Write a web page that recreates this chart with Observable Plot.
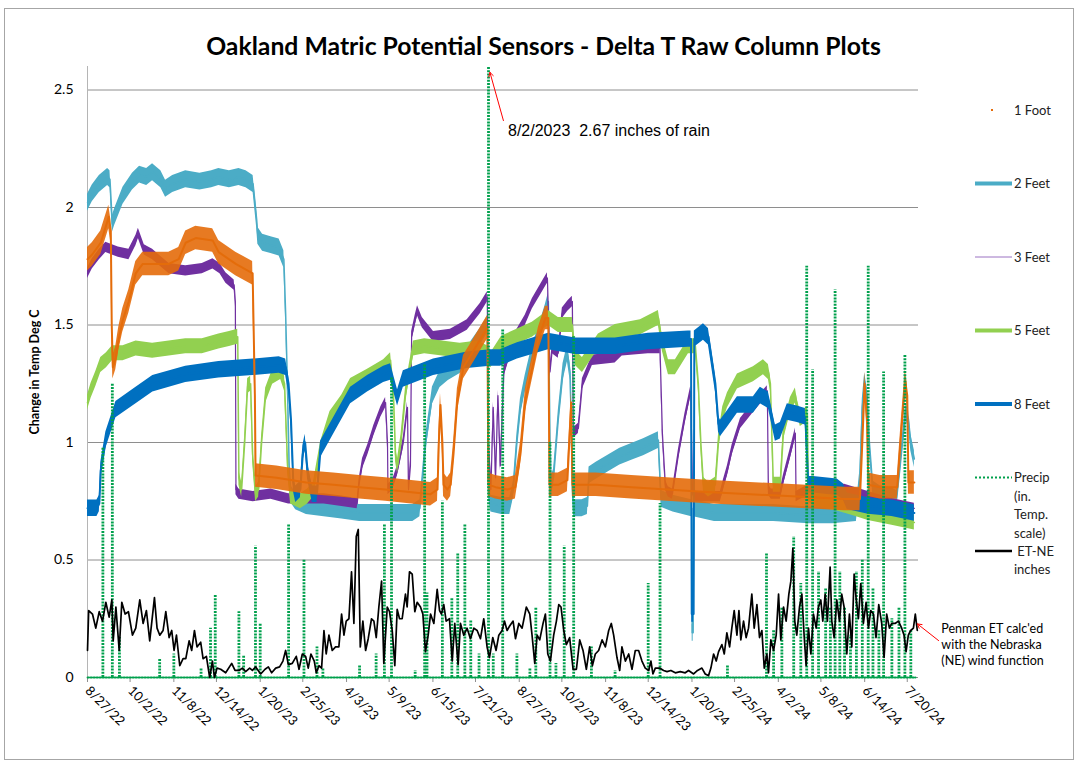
<!DOCTYPE html>
<html><head><meta charset="utf-8">
<script src="https://cdn.jsdelivr.net/npm/d3@7"></script>
<script src="https://cdn.jsdelivr.net/npm/@observablehq/plot@0.6"></script>
<style>
body{margin:0;background:#fff;}
#wrap{position:relative;width:1085px;height:769px;overflow:hidden;background:#fff;font-family:Lato,"Open Sans",sans-serif;}
#border{position:absolute;left:4px;top:8px;width:1070px;height:752px;border:1px solid #a6a6a6;box-sizing:border-box;}
#title{position:absolute;left:0;width:1087px;text-align:center;font-weight:bold;color:#000;white-space:nowrap;font-family:Lato,sans-serif;}
#chart{position:absolute;left:0;top:0;}
#overlay{position:absolute;left:0;top:0;pointer-events:none;}
</style></head>
<body>
<div id="wrap"><div id="border"></div><div id="chart"></div><svg id="overlay" width="1085" height="769"></svg><div id="title"></div></div>
<script>
// ---------- DATA (day = days since 8/27/2022) ----------
const titleText = "Oakland Matric Potential Sensors - Delta T Raw Column Plots";
const yLabel = "Change in Temp Deg C";
const tickLabels = ["8/27/22","10/2/22","11/8/22","12/14/22","1/20/23","2/25/23","4/3/23","5/9/23","6/15/23","7/21/23","8/27/23","10/2/23","11/8/23","12/14/23","1/20/24","2/25/24","4/2/24","5/8/24","6/14/24","7/20/24"];
const yTicks = [0, 0.5, 1, 1.5, 2, 2.5];

const foot1 = [[0,1.78],[4,1.8],[11.2,1.85],[18,1.96],[19.7,1.9],[20.5,1.5],[21.4,1.32],[23.9,1.36],[26.4,1.44],[29.8,1.52],[34.9,1.6],[40.8,1.72],[46.7,1.76],[55.2,1.76],[68.7,1.76],[77.1,1.78],[83,1.85],[91.5,1.87],[105.8,1.86],[110.9,1.81],[125.3,1.76],[139.6,1.72],[140.4,1.5],[141.5,1.2],[142.1,0.86],[160,0.85],[185,0.83],[208,0.82],[230,0.81],[252,0.8],[270,0.79],[290,0.78],[295.9,0.8],[297,1.0],[298.4,1.16],[300,1.0],[301,0.82],[304.3,0.8],[307,0.82],[308.5,0.9],[309.4,0.95],[312.7,1.18],[317.8,1.32],[326.3,1.39],[332.2,1.44],[338.1,1.49],[338.9,0.82],[345,0.81],[355,0.8],[361.7,0.81],[366,0.95],[370.2,1.18],[376.1,1.32],[381.2,1.44],[387.1,1.53],[389.6,1.53],[390.5,0.82],[398,0.82],[405.7,0.84],[409,1.17],[409.9,0.82],[430,0.82],[460,0.81],[490,0.8],[520,0.79],[560,0.78],[600,0.77],[640,0.76],[653,0.76],[655,1.0],[657,1.25],[659,1.1],[660.1,0.82],[670,0.81],[684.6,0.81],[688,1.05],[691.3,1.26],[693,1.2],[694,0.83],[699,0.83]];

const feet2 = [[0,2.02],[4,2.06],[10,2.1],[17,2.13],[19,2.12],[21,1.93],[23,1.96],[30,2.05],[38,2.11],[44,2.14],[50,2.13],[55,2.15],[62,2.12],[66,2.08],[72,2.1],[83,2.12],[95,2.11],[105,2.12],[111,2.13],[120,2.12],[128,2.13],[134,2.12],[140,2.1],[143,1.95],[144,1.88],[148,1.85],[155,1.84],[162,1.83],[166,1.78],[167.5,1.55],[169,1.25],[170.5,0.9],[172,0.78],[176,0.75],[185,0.73],[200,0.72],[215,0.71],[230,0.7],[250,0.7],[265,0.7],[275,0.7],[281,0.72],[286,1.0],[291.6,1.2],[298,1.27],[305,1.3],[315,1.33],[325,1.4],[332,1.45],[338,1.5],[339,0.8],[341,0.74],[350,0.73],[357,0.73],[360,0.8],[363,1.0],[366,1.15],[370,1.25],[376,1.38],[381,1.45],[387,1.55],[389.6,1.6],[391,1.0],[392,0.82],[394,0.85],[398,1.1],[402,1.3],[405.7,1.38],[408,1.3],[410,0.8],[411,0.72],[418,0.72],[422.6,0.73],[424,0.86],[430,0.88],[440,0.91],[450,0.94],[460,0.96],[470,0.98],[482.6,1.01],[484,0.85],[485,0.76],[495,0.74],[510.8,0.72],[511.2,0.19],[512,0.19],[512.4,0.72],[530,0.7],[550,0.7],[580,0.7],[610,0.69],[630,0.69],[650,0.7],[653,0.85],[655,1.15],[657,1.26],[659,1.2],[661,1.0],[664,0.8],[670,0.78],[680,0.77],[684,0.76],[687,0.9],[690,1.05],[692,1.13],[694,1.1],[696,1.0],[699,0.93]];

const feet3 = [[0,1.72],[4,1.76],[10,1.8],[15.5,1.83],[26,1.81],[35,1.8],[41,1.86],[43,1.89],[48,1.82],[55,1.8],[62,1.77],[69,1.74],[83,1.73],[97,1.74],[106,1.76],[112,1.74],[117,1.7],[124,1.67],[125,1.6],[125.5,0.8],[128,0.78],[140,0.77],[155,0.78],[170,0.76],[185,0.76],[200,0.76],[215,0.75],[228,0.74],[229.5,0.82],[232.5,0.91],[237,0.97],[242,1.05],[248,1.13],[252,1.17],[253.6,1.0],[254,0.8],[258,0.82],[262,0.88],[267,1.0],[270.5,1.15],[271.4,0.8],[273,0.9],[274,1.45],[277,1.52],[279,1.56],[283,1.51],[292.5,1.45],[306.8,1.46],[321,1.5],[332,1.57],[338,1.62],[339,1.0],[341,0.8],[343,1.15],[345,0.85],[347,1.2],[349,0.9],[352,1.3],[358,1.4],[362,1.45],[370,1.52],[376,1.59],[383,1.65],[388.8,1.7],[391,1.3],[393,1.4],[398,1.38],[401.4,1.55],[406,1.58],[409.9,1.6],[410.7,1.04],[415,1.06],[418.4,1.25],[426.8,1.35],[446,1.36],[452,1.39],[474,1.4],[484,1.4],[486,1.04],[488.5,0.82],[491,0.79],[494.5,0.78],[499.6,0.95],[505,1.1],[510,1.22],[511.4,0.8],[514,0.77],[525,0.77],[535,0.77],[537.6,0.82],[541,0.88],[545,0.97],[552,1.08],[562.9,1.15],[574.7,1.22],[575.6,0.8],[578,0.78],[585.7,0.78],[588.3,0.84],[594,0.95],[598.4,1.04],[599,0.77],[610,0.8],[640,0.8],[660,0.77],[680,0.74],[699,0.72]];

const feet5 = [[0,1.17],[3,1.22],[7,1.27],[11.2,1.33],[16,1.35],[21,1.38],[30,1.38],[41,1.4],[55,1.39],[69,1.4],[83,1.41],[97,1.41],[111,1.43],[120,1.44],[127,1.45],[128,0.85],[130.3,0.8],[132.9,1.0],[135.4,1.24],[137.9,1.25],[139.6,0.95],[142.1,0.78],[144.7,0.8],[147.2,1.0],[150.6,1.2],[156.5,1.28],[163.3,1.3],[166.6,1.25],[169.2,0.9],[171.7,0.77],[180,0.75],[186,0.77],[191,0.8],[197,0.97],[205,1.1],[215,1.17],[222.4,1.24],[236.7,1.28],[250.3,1.32],[256.2,1.35],[258.7,1.2],[260.4,0.95],[262.1,0.9],[265,1.0],[268.8,1.2],[272,1.3],[275.6,1.4],[285,1.41],[300,1.4],[315,1.39],[330,1.4],[338,1.38],[341,1.35],[350,1.42],[363,1.45],[376,1.48],[389.6,1.53],[398,1.5],[409.9,1.5],[412.4,1.36],[418.4,1.33],[431.9,1.43],[446.2,1.47],[467.4,1.49],[482.6,1.53],[486,1.42],[491.1,1.32],[497,1.32],[508,1.41],[513.9,1.41],[516.4,1.25],[518.5,1.0],[520.7,0.82],[524.9,0.8],[530.8,0.82],[533.4,1.0],[537,1.12],[541,1.18],[549.4,1.26],[562.9,1.29],[571.4,1.32],[575.6,1.3],[577.3,1.25],[579.8,0.82],[585.7,0.82],[588.3,1.04],[594.2,1.16],[598.4,1.2],[600.1,1.15],[602.6,1.1],[608.5,1.12],[609.4,0.78],[615,0.76],[633.8,0.74],[647.4,0.72],[660,0.7],[680,0.68],[699,0.66]];

const feet8 = [[0,0.72],[8,0.72],[10,0.74],[11.2,0.88],[15.5,1.01],[24,1.14],[41,1.2],[55.2,1.25],[83,1.29],[111,1.31],[140,1.32],[162,1.33],[167.5,1.32],[170,1.25],[172,1.1],[174,0.83],[176,0.78],[180,0.8],[182,0.95],[184,1.0],[186,0.88],[190,0.78],[194,0.78],[197,0.97],[208,1.07],[222.4,1.2],[236.7,1.25],[250.3,1.29],[256.2,1.3],[262.1,1.19],[267,1.27],[292.5,1.32],[321,1.35],[340.6,1.36],[349,1.36],[363.4,1.39],[389.6,1.43],[412.4,1.41],[446.2,1.41],[474.1,1.43],[508,1.44],[510.2,1.44],[510.8,0.27],[512.4,0.27],[513,1.44],[520.7,1.47],[524.9,1.45],[530.8,1.25],[533.4,1.08],[535,1.06],[541,1.1],[549.4,1.16],[562.9,1.16],[568.8,1.2],[575.6,1.18],[581.5,1.04],[585.7,1.05],[591.6,1.13],[600,1.12],[606.8,1.11],[609.4,0.82],[613.6,0.82],[633.8,0.81],[638.9,0.79],[642.3,0.75],[660,0.73],[680,0.72],[699,0.7]];

// rain days (other days had no rain)
const precipEvents = [[12.7,0.98],[21.1,1.25],[26.8,0.17],[60.5,0.08],[73.2,0.1],[95.7,0.04],[104.2,0.21],[107.8,0.35],[128.1,0.28],[131.8,0.09],[141.6,0.56],[145.5,0.23],[170.3,0.65],[183,0.5],[194.2,0.13],[199,0.04],[230,0.05],[243.5,0.1],[251.1,0.65],[257,1.28],[277.3,0.03],[285.2,1.33],[287.1,0.36],[300.4,0.75],[307.7,0.34],[313.3,0.53],[318.9,0.65],[323.7,0.24],[330.8,0.1],[339.2,2.67],[343.4,0.1],[350.5,1.48],[362.6,0.1],[374,0.04],[378.7,0.3],[390.8,1.0],[395.5,0.06],[403.1,0.56],[410.5,1.45],[425.7,0.13],[446,0.03],[474.4,0.4],[483.7,0.74],[541,0.05],[574.3,0.53],[580,0.2],[587,0.3],[596.8,0.6],[603,0.4],[608,1.75],[613.4,1.31],[618,0.45],[623.6,0.38],[628,0.3],[632,1.65],[636,0.45],[640,0.3],[644.7,0.18],[650,0.45],[655,0.5],[659.6,1.75],[664,0.38],[669,0.2],[673.4,1.3],[680,0.25],[686,0.3],[691.1,1.37],[696,0.2]];
const lastDay = 700;

const etNE = [[0,0.115],[1,0.285],[4.2,0.27],[7,0.21],[9.9,0.28],[12.7,0.24],[15.5,0.32],[18.3,0.257],[20.6,0.33],[21.7,0.156],[24,0.30],[26.8,0.115],[29,0.32],[31.8,0.27],[34.6,0.28],[38,0.18],[40.8,0.21],[44.2,0.33],[47,0.23],[49.8,0.285],[52.6,0.156],[56.6,0.34],[58.8,0.21],[61.1,0.18],[63.9,0.20],[66.2,0.28],[69,0.17],[71.2,0.20],[73.2,0.115],[75.2,0.18],[78,0.05],[80.8,0.08],[83.1,0.08],[85.9,0.156],[88.1,0.115],[90.4,0.20],[92.6,0.13],[95.7,0.15],[97.7,0.08],[100.5,0.09],[103.3,0.0],[105.6,0.07],[107.3,0.0],[109.5,0.04],[112.6,0.035],[116.8,0.02],[121.9,0.06],[124.7,0.03],[128.1,0.03],[130.9,0.04],[133.7,0.025],[137.1,0.04],[139.4,0.03],[142.2,0.045],[146.4,0.015],[150.1,0.035],[152.9,0.045],[155.7,0.02],[159.1,0.04],[162.4,0.045],[165.2,0.07],[167.5,0.115],[169.8,0.055],[173.1,0.06],[176.5,0.09],[178.8,0.035],[181.6,0.10],[184.4,0.09],[186.6,0.04],[188.9,0.10],[191.7,0.07],[193.4,0.02],[195.7,0.05],[197.9,0.04],[199.9,0.2],[201.8,0.10],[204.1,0.18],[206.9,0.115],[209.7,0.13],[212.5,0.13],[214.8,0.27],[216.8,0.18],[218.7,0.24],[221,0.25],[223.2,0.45],[225.2,0.23],[227.2,0.6],[228.9,0.63],[230.6,0.13],[232.8,0.24],[235.1,0.115],[237.3,0.165],[240.1,0.25],[242.1,0.24],[244.1,0.17],[246.3,0.30],[248.6,0.41],[250.5,0.06],[253.4,0.30],[255.3,0.28],[257.6,0.20],[259.8,0.05],[261.8,0.29],[263.8,0.25],[266,0.25],[268.8,0.355],[270.2,0.30],[272.2,0.45],[274.5,0.44],[276.7,0.28],[278.7,0.32],[281.5,0.30],[283.5,0.27],[285.7,0.11],[288,0.18],[290,0.27],[292.8,0.23],[295.6,0.375],[297.6,0.285],[299.2,0.27],[301.2,0.31],[303.2,0.24],[306,0.25],[308.3,0.07],[310.5,0.23],[313.3,0.055],[315.3,0.23],[318.1,0.18],[320.9,0.21],[323.7,0.165],[326.6,0.21],[329.4,0.20],[332.2,0.165],[335,0.25],[337.8,0.13],[339.8,0.085],[342.6,0.17],[345.4,0.115],[347.7,0.18],[350.5,0.2],[352.5,0.24],[354.7,0.20],[357,0.22],[359.8,0.24],[361.8,0.165],[364.6,0.23],[367.4,0.21],[371,0.30],[373.9,0.27],[375.8,0.18],[378.1,0.06],[380.1,0.18],[382.3,0.16],[385.1,0.23],[387.1,0.27],[389.1,0.10],[391.3,0.07],[394.1,0.18],[396.4,0.24],[398.4,0.31],[400.3,0.30],[402.6,0.20],[404.8,0.14],[407.6,0.17],[410.5,0.035],[413.3,0.035],[416.1,0.16],[418.9,0.115],[421.7,0.035],[424.5,0.13],[426.8,0.05],[429.3,0.10],[432.1,0.115],[435,0.16],[437.8,0.13],[440.6,0.20],[442.8,0.23],[444.8,0.18],[447.6,0.085],[449.9,0.03],[451.8,0.13],[454.7,0.07],[457.5,0.10],[460.3,0.035],[463.1,0.115],[465.9,0.115],[468.7,0.07],[471.5,0.04],[474.4,0.03],[476.3,0.07],[478,0.015],[480,0.04],[483.7,0.04],[487,0.03],[489.9,0.025],[493.2,0.03],[496.9,0.02],[501.1,0.025],[505.3,0.02],[508.1,0.03],[512.4,0.015],[515.7,0.03],[519.4,0.04],[522.2,0.015],[525,0.008],[527,0.04],[529.3,0.10],[531.5,0.07],[533.5,0.11],[536.3,0.14],[538.3,0.10],[540.5,0.19],[542.8,0.13],[544.7,0.21],[546.7,0.285],[549,0.18],[550.7,0.285],[552.3,0.16],[554.6,0.24],[556.8,0.17],[558.8,0.21],[561.6,0.355],[563.6,0.21],[565.9,0.31],[568.1,0.17],[570.1,0.20],[572.1,0.04],[574.3,0.10],[575.7,0.02],[577.7,0.16],[580,0.115],[582.2,0.18],[584.2,0.355],[586.1,0.16],[588.4,0.30],[590.6,0.24],[592.9,0.355],[594.6,0.41],[596.3,0.55],[597.9,0.24],[599.6,0.18],[601.9,0.30],[603.9,0.355],[605.8,0.18],[607.5,0.05],[609.5,0.21],[611.5,0.10],[613.7,0.27],[616,0.21],[617.9,0.30],[619.9,0.33],[621.6,0.24],[623.6,0.355],[625.5,0.24],[627.8,0.47],[629.2,0.24],[631.2,0.17],[633.4,0.33],[635.7,0.24],[637.6,0.355],[639.6,0.30],[641.9,0.10],[644.1,0.27],[646.1,0.13],[648.1,0.44],[649.7,0.34],[651.7,0.25],[653.7,0.40],[655.9,0.23],[658.2,0.32],[660.2,0.21],[662.1,0.285],[664.4,0.27],[666.6,0.17],[668.9,0.31],[671.4,0.23],[673.4,0.085],[675.6,0.27],[677.9,0.21],[679.9,0.23],[682.7,0.23],[685.5,0.24],[688.3,0.21],[690.3,0.18],[692,0.11],[693.9,0.18],[695.9,0.20],[698.2,0.21],[699.8,0.27],[701.5,0.20]];

const rainNote = {text: "8/2/2023  2.67 inches of rain", day: 355.5, value: 2.325, arrowFrom: [351.6, 2.37], arrowTo: [340.2, 2.575]};
const etNote = {lines: "Penman ET calc'ed\nwith the Nebraska\n(NE) wind function", day: 721.8, value: 0.145, arrowFrom: [719.5, 0.157], arrowTo: [701.6, 0.228]};

const legendLabels = [["1 Foot"],["2 Feet"],["3 Feet"],["5 Feet"],["8 Feet"],["Precip","(in.","Temp.","scale)"],[" ET-NE","inches"]];

// ---------- STYLES ----------
const colors = {foot1:"#E46C0A", feet2:"#4BACC6", feet3:"#7030A0", feet5:"#92D050", feet8:"#0070C0", precip:"#00A04C", et:"#000000"};
const bandHalf = {foot1:0.05, feet2:0.036, feet3:0.022, feet5:0.032, feet8:0.035};
const legendStyles = [
  {kind:"dot", color:colors.foot1},
  {kind:"line", color:colors.feet2, width:4},
  {kind:"line", color:"#9B72C2", width:1},
  {kind:"line", color:colors.feet5, width:4},
  {kind:"line", color:colors.feet8, width:4},
  {kind:"line", color:colors.precip, width:2, dash:"2,2"},
  {kind:"line", color:colors.et, width:2.5}
];

// ---------- BUILD ----------
const START = Date.UTC(2022, 7, 27);
const toDate = d => new Date(START + d * 864e5);
const rows = arr => arr.map(([d, v]) => ({date: toDate(d), value: v}));
const parseLabel = s => { const [m, d, y] = s.split("/").map(Number); return new Date(Date.UTC(2000 + y, m - 1, d)); };
const tickDates = tickLabels.map(parseLabel);
const labelByTime = new Map(tickDates.map((d, i) => [+d, tickLabels[i]]));

const rainByDay = new Map(precipEvents.map(([d, v]) => [Math.round(d), v]));
const dryDays = d3.range(0, lastDay + 1).filter(d => !rainByDay.has(d)).map(d => ({date: toDate(d), value: 0}));
const rainRows = [...rainByDay].map(([d, v]) => ({date: toDate(d), value: v}));

const xy = {x: "date", y: "value"};
const sensor = (arr, key, lineWidth, opacity = 1) => [
  Plot.areaY(rows(arr), {x: "date", y1: d => d.value - bandHalf[key], y2: d => d.value + bandHalf[key], fill: colors[key], fillOpacity: opacity}),
  Plot.line(rows(arr), {...xy, stroke: colors[key], strokeWidth: lineWidth})
];

const chart = Plot.plot({
  width: 1085, height: 769,
  marginLeft: 87, marginRight: 167, marginTop: 66, marginBottom: 92,
  style: {fontFamily: "Lato, sans-serif", fontSize: "13px", background: "transparent", color: "#000", overflow: "visible"},
  x: {type: "utc", domain: [toDate(0), toDate(702.5)]},
  y: {domain: [0, 2.6]},
  marks: [
    Plot.ruleY(yTicks, {stroke: "#8e8e8e", strokeWidth: 1}),
    Plot.frame({anchor: "left", stroke: "#b5b5b5"}),
    Plot.axisY(yTicks, {tickSize: 0, tickPadding: 14, fontSize: 14, tickFormat: d => String(d), label: null}),
    Plot.axisX(tickDates, {tickSize: 5, tickPadding: 6, tickRotate: 45, fontSize: 13, stroke: "#8e8e8e", fill: "#000", tickFormat: d => labelByTime.get(+d), label: null}),
    ...sensor(feet2, "feet2", 1.5),
    ...sensor(feet3, "feet3", 1.2),
    ...sensor(feet5, "feet5", 1.5),
    ...sensor(feet8, "feet8", 2),
    ...sensor(foot1, "foot1", 2, 0.9),
    Plot.line(dryDays, {...xy, stroke: colors.precip, strokeWidth: 1.8, strokeDasharray: "1.5,1.5"}),
    Plot.ruleX(rainRows, {x: "date", y1: 0, y2: "value", stroke: colors.precip, strokeWidth: 2.8, strokeDasharray: "2,1.2", clip: true}),
    Plot.line(rows(etNE), {...xy, stroke: colors.et, strokeWidth: 1.7}),
    Plot.arrow([rainNote], {x1: d => toDate(d.arrowFrom[0]), y1: d => d.arrowFrom[1], x2: d => toDate(d.arrowTo[0]), y2: d => d.arrowTo[1], stroke: "#FF0000", strokeWidth: 1, headLength: 7}),
    Plot.text([rainNote], {x: d => toDate(d.day), y: "value", text: "text", textAnchor: "start", fontSize: 16, fontFamily: "Liberation Sans, Arial, sans-serif", fill: "#000"}),
    Plot.arrow([etNote], {x1: d => toDate(d.arrowFrom[0]), y1: d => d.arrowFrom[1], x2: d => toDate(d.arrowTo[0]), y2: d => d.arrowTo[1], stroke: "#FF0000", strokeWidth: 1, headLength: 7}),
    Plot.text([etNote], {x: d => toDate(d.day), y: "value", text: "lines", textAnchor: "start", fontSize: 12.5, lineHeight: 1.28, fill: "#000"})
  ]
});
document.getElementById("chart").appendChild(chart);

// title
const titleEl = document.getElementById("title");
titleEl.textContent = titleText;
const ctx = document.createElement("canvas").getContext("2d");
ctx.font = "bold 24px Lato";
const fs = 24 * 677 / ctx.measureText(titleText).width;
titleEl.style.fontSize = fs + "px";
titleEl.style.lineHeight = (1.2 * fs) + "px";
titleEl.style.top = (58 - 0.987 * fs - 0.1 * fs) + "px";

// overlay: y label + legend
const ov = d3.select("#overlay");
ov.append("text").attr("transform", "translate(39,372) rotate(-90)").attr("text-anchor", "middle")
  .attr("font-family", "Lato, sans-serif").attr("font-weight", "bold").attr("font-size", 12.5).text(yLabel);
const lg = ov.append("g").attr("font-family", "Lato, sans-serif").attr("font-size", 13).attr("fill", "#222");
legendLabels.forEach((lines, i) => {
  const y = 110 + i * 73.5;
  const s = legendStyles[i];
  if (s.kind === "dot") {
    lg.append("rect").attr("x", 991).attr("y", y - 1).attr("width", 2).attr("height", 2).attr("fill", s.color);
  } else {
    lg.append("line").attr("x1", 975).attr("x2", 1012).attr("y1", y).attr("y2", y)
      .attr("stroke", s.color).attr("stroke-width", s.width).attr("stroke-dasharray", s.dash || null);
  }
  lines.forEach((t, j) => {
    lg.append("text").attr("x", 1014).attr("y", y + j * 18.5).attr("dy", "0.35em").style("white-space", "pre").text(t);
  });
});
</script>
</body></html>
